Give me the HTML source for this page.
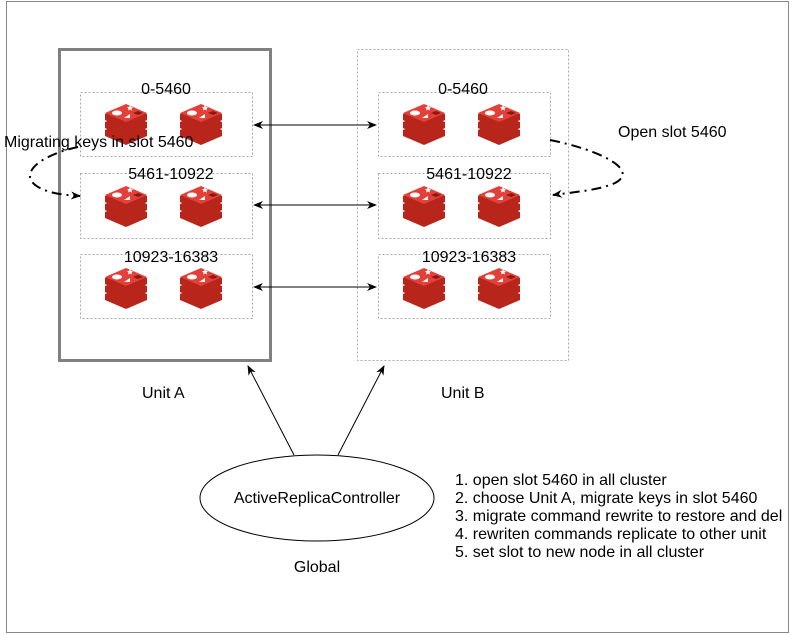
<!DOCTYPE html>
<html><head><style>
html,body{margin:0;padding:0;background:#fff;}
svg{display:block;font-family:"Liberation Sans",Arial,sans-serif;}
</style></head><body>
<svg width="792" height="635" viewBox="0 0 792 635" xmlns="http://www.w3.org/2000/svg">
<defs>
<marker id="ah" markerWidth="10" markerHeight="8" refX="9" refY="4" orient="auto" markerUnits="userSpaceOnUse">
<path d="M0,0 L10,4 L0,8 L3,4 z" fill="#000"/></marker>
<marker id="ahs" markerWidth="10" markerHeight="8" refX="1" refY="4" orient="auto" markerUnits="userSpaceOnUse">
<path d="M10,0 L0,4 L10,8 L7,4 z" fill="#000"/></marker>
<g id="redis">
<path d="M0,22 L21,13 L42,22 L42,28 L21,37 L0,28 z" fill="#b8251a"/>
<path d="M0,20 L21,11 L42,20 L21,29 z" fill="#e0352a"/>
<path d="M0,14 L21,5 L42,14 L42,20 L21,29 L0,20 z" fill="#b8251a"/>
<path d="M0,12 L21,3 L42,12 L21,21 z" fill="#e0352a"/>
<path d="M0,6 L21,-3 L42,6 L42,12 L21,21 L0,12 z" fill="#b8251a"/>
<path d="M0,5 L21,-4 L42,5 L21,14 z" fill="#e4403a"/>
<ellipse cx="12" cy="5" rx="5" ry="2.5" fill="#fff"/>
<path d="M22,-1 l2,0 l1,-2 l1,2 l2,0 l-1.5,1.5 l0.5,2 l-2,-1 l-2,1 l0.5,-2z" fill="#fff"/>
<path d="M19,10 L25,6 L25,10z" fill="#fff"/>
<path d="M28,5 L33,3 L38,5 L33,7z" fill="#8a1a10"/>
</g>
</defs>
<rect x="6.5" y="1.5" width="782" height="631" fill="none" stroke="#888" stroke-width="1"/>
<rect x="59.5" y="49.5" width="211" height="311" fill="none" stroke="#808080" stroke-width="3"/>
<g fill="none" stroke="#aaa" stroke-dasharray="2,2">
<rect x="80.5" y="92.5" width="172" height="64"/>
<rect x="80.5" y="173.5" width="172" height="65"/>
<rect x="80.5" y="254.5" width="172" height="64"/>
<rect x="357.5" y="49.5" width="211" height="311"/>
<rect x="378.5" y="92.5" width="172" height="64"/>
<rect x="378.5" y="173.5" width="172" height="65"/>
<rect x="378.5" y="254.5" width="172" height="64"/>
</g>
<g font-size="16" text-anchor="middle" fill="#000">
<text x="166" y="94">0-5460</text>
<text x="171" y="179">5461-10922</text>
<text x="171" y="262">10923-16383</text>
<text x="463" y="94">0-5460</text>
<text x="469" y="179">5461-10922</text>
<text x="469" y="262">10923-16383</text>
</g>
<use href="#redis" x="105" y="108"/><use href="#redis" x="180" y="108"/>
<use href="#redis" x="105" y="190"/><use href="#redis" x="180" y="190"/>
<use href="#redis" x="105" y="272"/><use href="#redis" x="180" y="272"/>
<use href="#redis" x="403" y="108"/><use href="#redis" x="478" y="108"/>
<use href="#redis" x="403" y="190"/><use href="#redis" x="478" y="190"/>
<use href="#redis" x="403" y="272"/><use href="#redis" x="478" y="272"/>
<g stroke="#000" stroke-width="1">
<line x1="254" y1="125" x2="376" y2="125" marker-start="url(#ahs)" marker-end="url(#ah)"/>
<line x1="254" y1="205" x2="376" y2="205" marker-start="url(#ahs)" marker-end="url(#ah)"/>
<line x1="254" y1="287" x2="376" y2="287" marker-start="url(#ahs)" marker-end="url(#ah)"/>
<line x1="294" y1="455" x2="248" y2="366" marker-end="url(#ah)"/>
<line x1="338" y1="455" x2="384" y2="366" marker-end="url(#ah)"/>
</g>
<g fill="none" stroke="#000" stroke-width="2" stroke-dasharray="10,5,2,5">
<path d="M78,147 C40,155 15,175 40,188 C52,194 65,195 80,196" marker-end="url(#ah)"/>
<path d="M550,140 C600,150 640,170 615,183 C600,190 575,192 553,195" marker-end="url(#ah)"/>
</g>
<g font-size="16" fill="#000">
<text x="4" y="147">Migrating keys in slot 5460</text>
<text x="618" y="137">Open slot 5460</text>
<text x="142" y="398">Unit A</text>
<text x="441" y="398">Unit B</text>
</g>
<ellipse cx="317" cy="498" rx="117" ry="43" fill="#fff" stroke="#000"/>
<g font-size="16" fill="#000">
<text x="317" y="503" text-anchor="middle">ActiveReplicaController</text>
<text x="317" y="572" text-anchor="middle">Global</text>
<text x="455" y="485">1. open slot 5460 in all cluster</text>
<text x="455" y="503">2. choose Unit A, migrate keys in slot 5460</text>
<text x="455" y="521">3. migrate command rewrite to restore and del</text>
<text x="455" y="539">4. rewriten commands replicate to other unit</text>
<text x="455" y="557">5. set slot to new node in all cluster</text>
</g>
</svg>
</body></html>
